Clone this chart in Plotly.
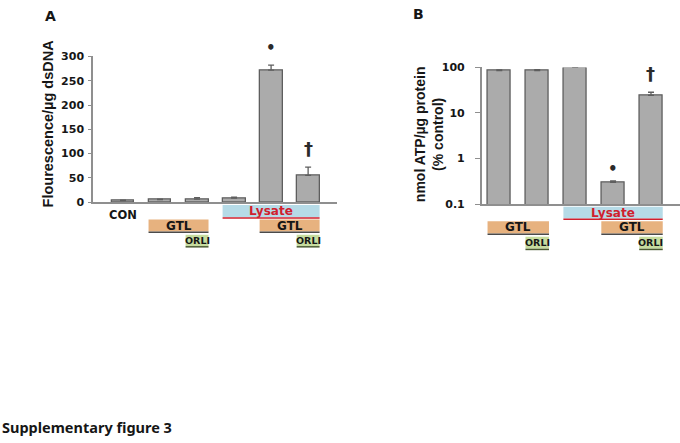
import math
import plotly.graph_objects as go

# ---------------- data ----------------
groups_a = ["CON", "GTL", "GTL+ORLI", "Lysate", "Lysate+GTL", "Lysate+GTL+ORLI"]
fluor_mean = [3, 5, 6, 8, 272, 55]
fluor_err = [1, 1, 3, 2, 10, 17]
fluor_marks = ["", "", "", "", "•", "†"]
ticks_a = [0, 50, 100, 150, 200, 250, 300]

groups_b = ["GTL", "GTL+ORLI", "Lysate", "Lysate+GTL", "Lysate+GTL+ORLI"]
atp_mean = [85, 85, 100, 0.30, 24.5]
atp_err = [3, 4, 3, 0.02, 4]
atp_marks = ["", "", "", "•", "†"]
ticks_b = [0.1, 1, 10, 100]
ticktext_b = ["0.1", "1", "10", "100"]

# treatment rows: (label, first bar, last bar, style)
rows_a = [("Lysate", 3, 5, "lysate"), ("GTL", 1, 2, "gtl"), ("GTL", 4, 5, "gtl"),
          ("ORLI", 2, 2, "orli"), ("ORLI", 5, 5, "orli")]
rows_b = [("Lysate", 2, 4, "lysate"), ("GTL", 0, 1, "gtl"), ("GTL", 3, 4, "gtl"),
          ("ORLI", 1, 1, "orli"), ("ORLI", 4, 4, "orli")]

# ---------------- layout helpers ----------------
W, H = 680, 443
def fx(p): return p / W
def fy(p): return 1 - p / H

FONT = "DejaVu Sans"
TFONT = "Liberation Sans"
BAR_FILL = "#ABABAB"
BAR_LINE = "#5E5E5E"
AXIS = "#8F8F8F"
INK = "#161616"
BW = 0.62

styles = {
    "lysate": dict(fill="#B6DBE7", text="#D0202E", line="#D0202E", size=12),
    "gtl": dict(fill="#E7B27F", text=INK, line="#4A4A4A", size=12),
    "orli": dict(fill="#C6DC9E", text=INK, line="#4A5A30", size=9.5),
}
row_y_a = {"lysate": (205, 217.7), "gtl": (220, 232.3), "orli": (235.7, 247.3)}
row_y_b = {"lysate": (206.7, 219), "gtl": (221.7, 234.3), "orli": (237.7, 250)}

fig = go.Figure()

xa = list(range(len(groups_a)))
xb = list(range(len(groups_b)))

fig.add_trace(go.Bar(
    x=xa, y=fluor_mean, width=BW, xaxis="x", yaxis="y",
    marker=dict(color=BAR_FILL, line=dict(color=BAR_LINE, width=1.3)),
    error_y=dict(type="data", array=fluor_err, arrayminus=[0] * len(fluor_err),
                 symmetric=False, color=BAR_LINE, thickness=1.3, width=3),
    hovertext=groups_a, showlegend=False))

fig.add_trace(go.Bar(
    x=xb, y=atp_mean, width=BW, xaxis="x2", yaxis="y2",
    marker=dict(color=BAR_FILL, line=dict(color=BAR_LINE, width=1.3)),
    error_y=dict(type="data", array=atp_err, arrayminus=[0] * len(atp_err),
                 symmetric=False, color=BAR_LINE, thickness=1.3, width=3),
    hovertext=groups_b, showlegend=False))

tickfont = dict(family=FONT, size=11, color=INK, weight="bold")

fig.update_layout(
    width=W, height=H, margin=dict(l=0, r=0, t=0, b=0),
    paper_bgcolor="white", plot_bgcolor="white",
    bargap=0,
    xaxis=dict(domain=[fx(93), fx(337)], range=[-0.81, 5.78], showline=True,
               linecolor=AXIS, linewidth=1.5, showticklabels=False, ticks="",
               showgrid=False, zeroline=False, anchor="y"),
    yaxis=dict(domain=[fy(202), fy(52)], range=[0, 300], tickvals=ticks_a,
               showline=True, linecolor=AXIS, linewidth=1.5, ticks="outside",
               ticklen=3, tickcolor=AXIS, tickfont=tickfont, showgrid=False,
               zeroline=False, anchor="x", ticklabelstandoff=2),
    xaxis2=dict(domain=[fx(481.7), 1.0], range=[-0.464, 4.765], showline=True,
                linecolor=AXIS, linewidth=1.5, showticklabels=False, ticks="",
                showgrid=False, zeroline=False, anchor="y2"),
    yaxis2=dict(domain=[fy(204), fy(63.3)], type="log", range=[-1, 2],
                tickvals=ticks_b, ticktext=ticktext_b, showline=True,
                linecolor=AXIS, linewidth=1.5, ticks="outside", ticklen=5,
                tickcolor=AXIS, tickfont=tickfont, showgrid=False,
                zeroline=False, anchor="x2", ticklabelstandoff=8),
)

ann = []
shapes = []

def mark_font(m):
    return dict(family=FONT, size=15 if m == "•" else 18, color="#2a2a2a", weight="bold")

# significance marks
for i, m in enumerate(fluor_marks):
    if m:
        ann.append(dict(x=i, y=fluor_mean[i] + fluor_err[i], xref="x", yref="y",
                        text=m, showarrow=False, yanchor="middle",
                        yshift=17 if m == "•" else 19, font=mark_font(m)))
for i, m in enumerate(atp_marks):
    if m:
        ann.append(dict(x=i, y=math.log10(atp_mean[i] + atp_err[i]), xref="x2",
                        yref="y2", text=m, showarrow=False, yanchor="middle",
                        yshift=12 if m == "•" else 19, font=mark_font(m)))

# treatment rows
def add_rows(rows, xref, row_y):
    for label, i0, i1, st in rows:
        s = styles[st]
        y0, y1 = row_y[st]
        shapes.append(dict(type="rect", xref=xref, yref="paper",
                           x0=i0 - BW / 2, x1=i1 + BW / 2, y0=fy(y1), y1=fy(y0),
                           fillcolor=s["fill"], line=dict(width=0), layer="above"))
        shapes.append(dict(type="line", xref=xref, yref="paper",
                           x0=i0 - BW / 2, x1=i1 + BW / 2, y0=fy(y1 + 0.8), y1=fy(y1 + 0.8),
                           line=dict(color=s["line"], width=1.5)))
        ann.append(dict(x=(i0 + i1) / 2, y=fy((y0 + y1) / 2), xref=xref, yref="paper",
                        text=label, showarrow=False, yanchor="middle",
                        font=dict(family=FONT, size=s["size"], color=s["text"], weight="bold")))

add_rows(rows_a, "x", row_y_a)
add_rows(rows_b, "x2", row_y_b)

ann.append(dict(x=0, y=fy(215), xref="x", yref="paper", text="CON",
                showarrow=False, yanchor="middle",
                font=dict(family=FONT, size=11.5, color=INK, weight="bold")))

# axis titles
ann.append(dict(x=fx(48), y=fy(121), xref="paper", yref="paper",
                text="Flourescence/µg dsDNA", textangle=-90, showarrow=False,
                xanchor="center", yanchor="middle",
                font=dict(family=TFONT, size=14.5, color=INK, weight="bold")))
ann.append(dict(x=fx(429), y=fy(132), xref="paper", yref="paper",
                text="nmol ATP/µg protein<br>(% control)", textangle=-90,
                showarrow=False, xanchor="center", yanchor="middle",
                font=dict(family=TFONT, size=14, color=INK, weight="bold")))

# panel letters
ann.append(dict(x=fx(50), y=fy(10), xref="paper", yref="paper", text="A",
                showarrow=False, xanchor="center", yanchor="middle",
                font=dict(family=FONT, size=14, color=INK, weight="bold")))
ann.append(dict(x=fx(418), y=fy(8), xref="paper", yref="paper", text="B",
                showarrow=False, xanchor="center", yanchor="middle",
                font=dict(family=FONT, size=14, color=INK, weight="bold")))

ann.append(dict(x=0, y=fy(434), xref="paper", yref="paper",
                text="Supplementary figure 3", showarrow=False,
                xanchor="left", yanchor="middle",
                font=dict(family="Noto Sans", size=14.5, color=INK, weight="bold")))

fig.update_layout(annotations=ann, shapes=shapes)
fig.write_html("out.html", config={"displayModeBar": False},
               post_script="document.body.style.margin='0';")
